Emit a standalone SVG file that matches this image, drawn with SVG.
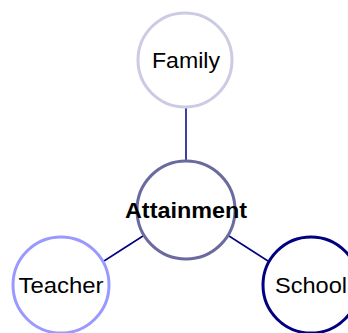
<svg xmlns="http://www.w3.org/2000/svg" width="348" height="333" viewBox="0 0 348 333">
<style>
.n{fill:#fff;stroke-width:3}
.t{font-family:"Liberation Sans",Arial,sans-serif;font-size:22px;fill:#000;text-anchor:middle}
.c{stroke:#000080;stroke-width:1.5;fill:none}
</style>
<rect width="348" height="333" fill="#fff"/>
<g id="connectors">
<line class="c" x1="186" y1="108" x2="186" y2="160"/>
<line class="c" x1="104" y1="261" x2="143" y2="236"/>
<line class="c" x1="229" y1="236" x2="268" y2="261"/>
</g>
<g id="family">
<circle class="n" cx="185" cy="60" r="47" stroke="#cbcbe3"/>
<text class="t" x="186" y="68" textLength="68" lengthAdjust="spacingAndGlyphs">Family</text>
</g>
<g id="attainment">
<circle class="n" cx="186" cy="210" r="49" stroke="#6a6a9e"/>
<text class="t" x="186" y="218" font-weight="bold" textLength="122" lengthAdjust="spacingAndGlyphs">Attainment</text>
</g>
<g id="teacher">
<circle class="n" cx="61" cy="285" r="48" stroke="#9999ff"/>
<text class="t" x="61" y="293" textLength="85" lengthAdjust="spacingAndGlyphs">Teacher</text>
</g>
<g id="school">
<circle class="n" cx="311" cy="285" r="48" stroke="#000080"/>
<text class="t" x="311" y="293" textLength="72" lengthAdjust="spacingAndGlyphs">School</text>
</g>
</svg>
